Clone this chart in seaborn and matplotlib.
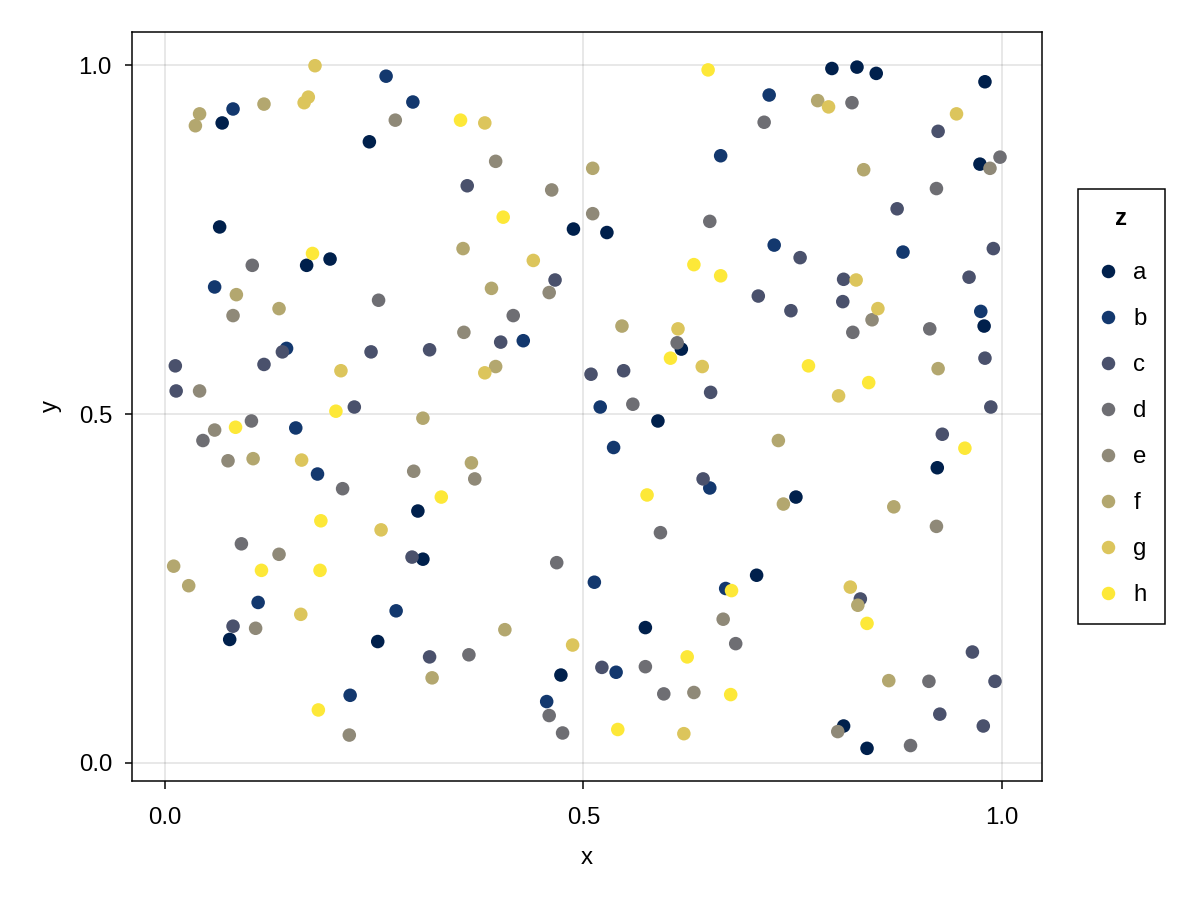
import pandas as pd
import matplotlib
matplotlib.use("Agg")
import matplotlib.pyplot as plt
from matplotlib.lines import Line2D
import seaborn as sns

# points, grouped by the z category
a_x = [0.244, 0.068, 0.797, 0.827, 0.850, 0.980, 0.974, 0.065, 0.169, 0.197, 0.488, 0.528, 0.617,
       0.979, 0.302, 0.308, 0.589, 0.923, 0.754, 0.707, 0.077, 0.254, 0.473, 0.574, 0.811, 0.839]
a_y = [0.890, 0.917, 0.995, 0.997, 0.988, 0.976, 0.858, 0.768, 0.713, 0.722, 0.765, 0.760, 0.593,
       0.626, 0.361, 0.292, 0.490, 0.423, 0.381, 0.269, 0.177, 0.174, 0.126, 0.194, 0.053, 0.021]

b_x = [0.264, 0.296, 0.081, 0.664, 0.722, 0.059, 0.145, 0.428, 0.520, 0.728, 0.882, 0.975,
       0.156, 0.182, 0.536, 0.651, 0.513, 0.670, 0.111, 0.276, 0.221, 0.456, 0.539]
b_y = [0.984, 0.947, 0.937, 0.870, 0.957, 0.682, 0.594, 0.605, 0.510, 0.742, 0.732, 0.647,
       0.480, 0.414, 0.452, 0.394, 0.259, 0.250, 0.230, 0.218, 0.097, 0.088, 0.130]

c_x = [0.361, 0.924, 0.875, 0.140, 0.118, 0.246, 0.316, 0.012, 0.013, 0.226, 0.466, 0.401,
       0.509, 0.548, 0.652, 0.759, 0.990, 0.811, 0.961, 0.709, 0.748, 0.810, 0.980, 0.987,
       0.295, 0.643, 0.929, 0.081, 0.316, 0.522, 0.831, 0.965, 0.992, 0.926, 0.978]
c_y = [0.827, 0.905, 0.794, 0.589, 0.571, 0.589, 0.592, 0.569, 0.533, 0.510, 0.692, 0.603,
       0.557, 0.562, 0.531, 0.724, 0.737, 0.693, 0.696, 0.669, 0.648, 0.661, 0.580, 0.510,
       0.295, 0.407, 0.471, 0.196, 0.152, 0.137, 0.235, 0.159, 0.117, 0.070, 0.053]

d_x = [0.651, 0.821, 0.716, 0.998, 0.922, 0.104, 0.255, 0.416, 0.612, 0.559, 0.822, 0.914,
       0.103, 0.045, 0.212, 0.091, 0.592, 0.468, 0.363, 0.459, 0.475, 0.682, 0.574, 0.596,
       0.913, 0.891]
d_y = [0.776, 0.946, 0.918, 0.868, 0.823, 0.713, 0.663, 0.641, 0.602, 0.514, 0.617, 0.622,
       0.490, 0.462, 0.393, 0.314, 0.330, 0.287, 0.155, 0.068, 0.043, 0.171, 0.138, 0.099,
       0.117, 0.025]

e_x = [0.275, 0.395, 0.462, 0.511, 0.986, 0.081, 0.041, 0.459, 0.357, 0.845, 0.059, 0.075,
       0.297, 0.136, 0.370, 0.922, 0.108, 0.220, 0.667, 0.632, 0.804]
e_y = [0.921, 0.862, 0.821, 0.787, 0.852, 0.641, 0.533, 0.674, 0.617, 0.635, 0.477, 0.433,
       0.418, 0.299, 0.407, 0.339, 0.193, 0.040, 0.206, 0.101, 0.045]

f_x = [0.118, 0.041, 0.036, 0.511, 0.780, 0.835, 0.085, 0.136, 0.356, 0.390, 0.395, 0.546,
       0.924, 0.308, 0.105, 0.010, 0.028, 0.366, 0.733, 0.739, 0.871, 0.319, 0.406, 0.828, 0.865]
f_y = [0.944, 0.930, 0.913, 0.852, 0.949, 0.850, 0.671, 0.651, 0.737, 0.680, 0.568, 0.626,
       0.565, 0.494, 0.436, 0.282, 0.254, 0.430, 0.462, 0.371, 0.367, 0.122, 0.191, 0.226, 0.118]

g_x = [0.179, 0.171, 0.166, 0.382, 0.793, 0.946, 0.210, 0.440, 0.382, 0.613, 0.642, 0.826,
       0.852, 0.805, 0.163, 0.258, 0.819, 0.162, 0.487, 0.620]
g_y = [0.999, 0.954, 0.946, 0.917, 0.940, 0.930, 0.562, 0.720, 0.559, 0.622, 0.568, 0.692,
       0.651, 0.526, 0.434, 0.334, 0.252, 0.213, 0.169, 0.042]

h_x = [0.353, 0.404, 0.649, 0.176, 0.632, 0.664, 0.604, 0.769, 0.841, 0.204, 0.084, 0.330,
       0.186, 0.115, 0.185, 0.576, 0.677, 0.956, 0.183, 0.624, 0.676, 0.541, 0.839]
h_y = [0.921, 0.782, 0.993, 0.730, 0.714, 0.698, 0.580, 0.569, 0.545, 0.504, 0.481, 0.381,
       0.347, 0.276, 0.276, 0.384, 0.247, 0.451, 0.076, 0.152, 0.098, 0.048, 0.200]

categories = ["a", "b", "c", "d", "e", "f", "g", "h"]
colors = ["#00204c", "#13386e", "#4a516c", "#6e6e73", "#8f8978", "#b3a76f", "#dcc55c", "#fde838"]
xs = [a_x, b_x, c_x, d_x, e_x, f_x, g_x, h_x]
ys = [a_y, b_y, c_y, d_y, e_y, f_y, g_y, h_y]

frames = []
for cat, cx, cy in zip(categories, xs, ys):
    frames.append(pd.DataFrame({"x": cx, "y": cy, "z": cat}))
df = pd.concat(frames, ignore_index=True)
palette = dict(zip(categories, colors))

sns.set_style("white")
plt.rcParams["font.family"] = ["Liberation Sans", "DejaVu Sans"]
plt.rcParams["text.color"] = "black"
plt.rcParams["axes.labelcolor"] = "black"
fs = 17.3

fig = plt.figure(figsize=(12, 9), dpi=100)
ax = fig.add_axes([132 / 1200, 119 / 900, 910 / 1200, 749 / 900])
sns.scatterplot(data=df, x="x", y="y", hue="z", palette=palette, hue_order=categories,
                s=95, linewidth=0, alpha=1, legend=False, ax=ax, zorder=3)

ax.set_xlim(-0.0398, 1.0482)
ax.set_ylim(-0.0258, 1.0473)
ax.set_xticks([0.0, 0.5, 1.0])
ax.set_yticks([0.0, 0.5, 1.0])
ax.set_xticklabels(["0.0", "0.5", "1.0"])
ax.set_yticklabels(["0.0", "0.5", "1.0"])
ax.grid(True, color="black", alpha=0.12, linewidth=1.08)
ax.set_axisbelow(True)
for sp in ax.spines.values():
    sp.set_visible(True)
    sp.set_color("black")
    sp.set_linewidth(1.08)
ax.tick_params(axis="both", direction="out", length=5.4, width=1.08, colors="black",
               labelsize=fs, bottom=True, left=True)
ax.tick_params(axis="x", pad=13)
ax.tick_params(axis="y", pad=9)
ax.set_xlabel("x", fontsize=fs, labelpad=13, color="black")
ax.set_ylabel("y", fontsize=fs, labelpad=12, color="black")

handles = [Line2D([0], [0], marker="o", linestyle="none", markersize=9.7,
                  markerfacecolor=c, markeredgewidth=0) for c in colors]
leg = ax.legend(handles, categories, title="z", loc="upper left",
                bbox_to_anchor=(1078 / 1200, 1 - 189 / 900), bbox_transform=fig.transFigure,
                fontsize=fs, title_fontsize=fs, frameon=True, fancybox=False,
                edgecolor="black", framealpha=1, borderpad=0.75, labelspacing=1.0,
                handlelength=1.0, handletextpad=0.55, borderaxespad=0)
leg.get_title().set_fontweight("bold")
leg.get_title().set_color("black")
for t in leg.get_texts():
    t.set_color("black")
leg.get_frame().set_linewidth(1.08)
leg._legend_box.sep = 23  # extra room under the title

plt.savefig("out.png", dpi=100)
